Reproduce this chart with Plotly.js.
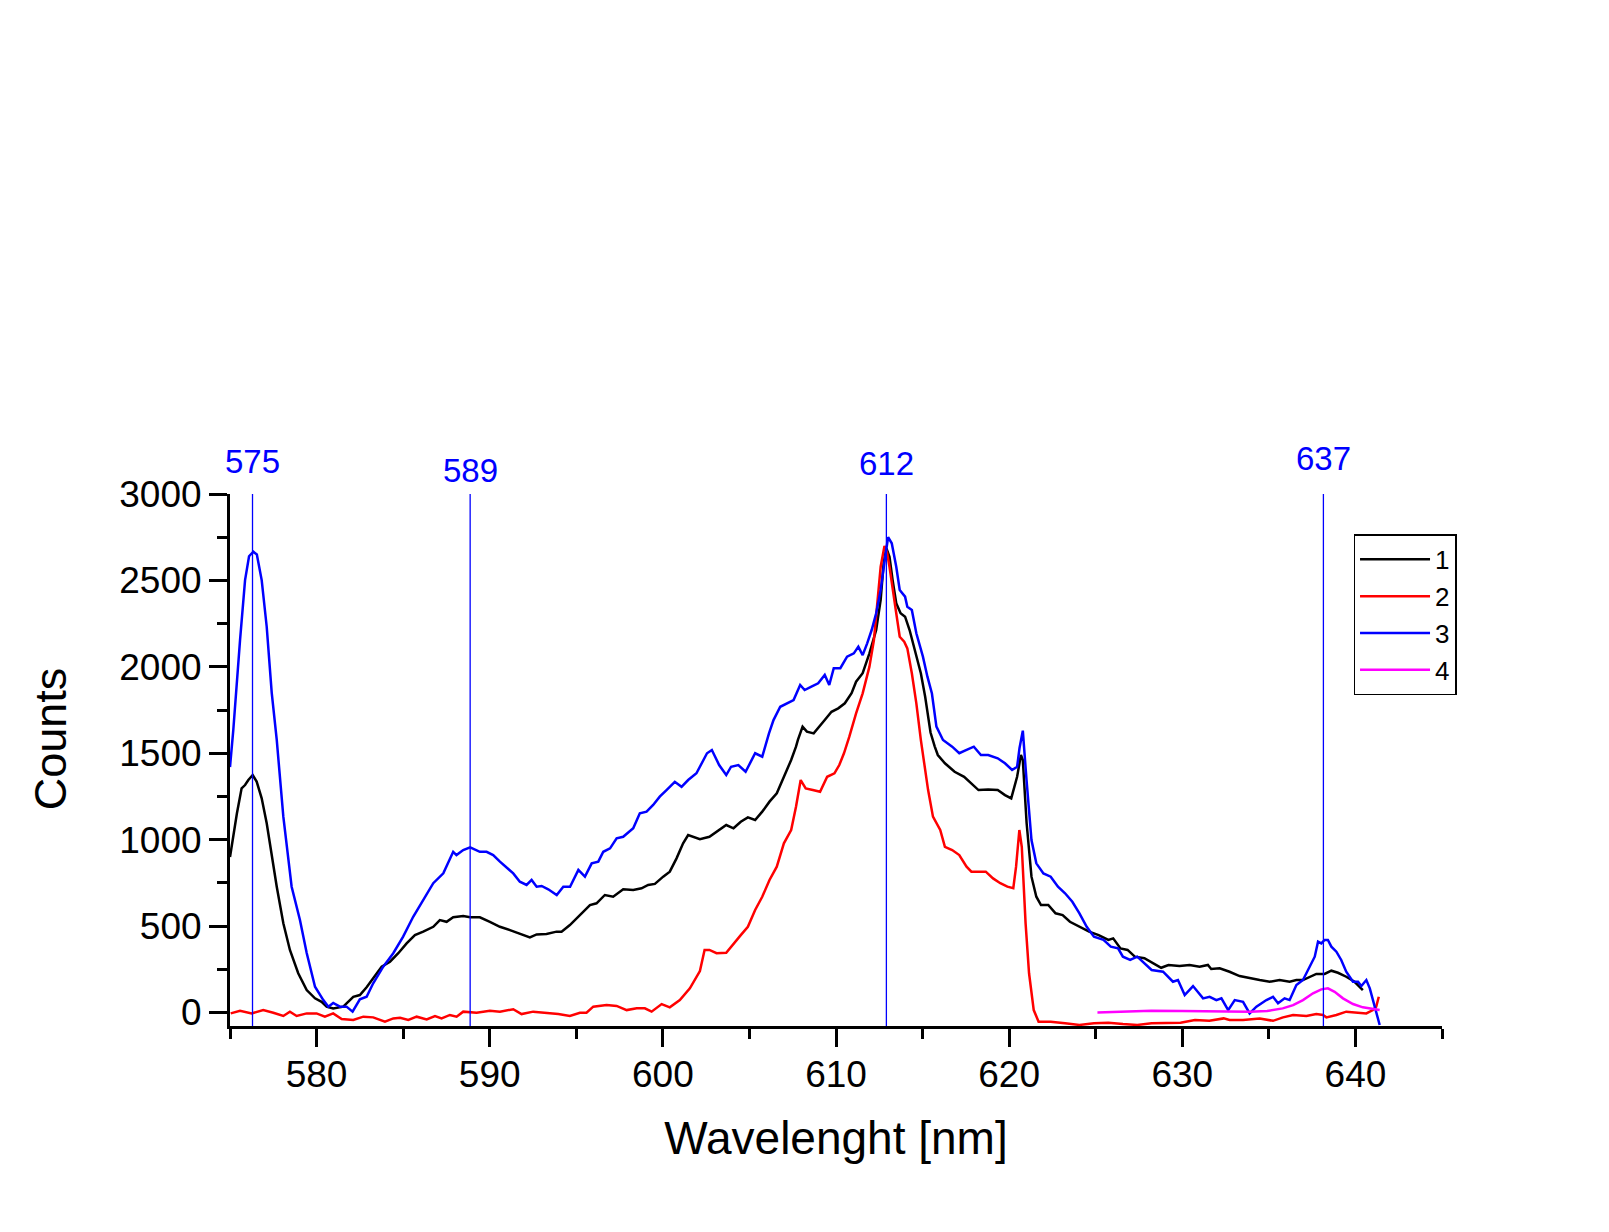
<!DOCTYPE html>
<html>
<head>
<meta charset="utf-8">
<script src="https://cdn.plot.ly/plotly-3.0.1.min.js"></script>
<style>html,body{margin:0;padding:0;background:#fff;}#chart{width:1609px;height:1232px;}</style>
</head>
<body>
<div id="chart"></div>
<script>
// ---- Data ----
const seriesNames = ['1', '2', '3', '4'];

const s1x = [575.0,575.2,575.4,575.67,575.87,576.06,576.31,576.54,576.83,577.12,577.41,577.7,578.08,578.46,578.94,579.43,579.91,580.29,580.58,580.96,581.54,581.83,582.12,582.5,582.89,583.27,583.76,584.24,584.72,585.2,585.68,586.16,586.74,587.12,587.51,587.89,588.47,588.87,589.43,590.01,590.59,591.17,591.74,592.32,592.71,593.28,593.86,594.15,594.63,595.21,595.79,596.17,596.65,597.13,597.71,598.29,598.77,599.15,599.54,600.02,600.4,600.79,601.17,601.46,601.75,602.14,602.69,603.25,603.66,604.08,604.5,604.91,605.33,605.74,606.16,606.58,606.99,607.41,607.69,607.8,608.07,608.32,608.71,608.97,609.35,609.74,610.13,610.51,610.9,611.16,611.54,611.93,612.32,612.58,612.75,612.91,613.09,613.27,613.48,613.73,613.99,614.25,614.51,614.9,615.15,615.46,615.7,615.88,616.29,616.85,617.4,617.82,618.23,618.79,619.34,619.76,620.12,620.46,620.68,620.79,621.01,621.29,621.57,621.84,622.26,622.68,623.09,623.51,624.06,624.62,625.17,625.73,626.01,626.43,626.84,627.26,627.81,628.37,628.78,629.2,629.84,630.42,631.0,631.48,631.67,632.16,632.73,633.31,633.89,634.47,635.05,635.62,636.2,636.59,636.97,637.36,637.74,638.22,638.61,638.99,639.47,639.95,640.43];
const s1y = [900,1037,1153,1297,1316,1345,1374,1336,1239,1095,901,728,516,362,227,130,82,62,34,24,34,62,91,101,146,198,265,294,343,400,448,468,496,535,525,551,558,551,551,525,496,477,458,435,452,454,468,468,506,564,622,632,680,670,713,709,719,738,744,786,815,892,979,1027,1017,1003,1017,1056,1085,1066,1104,1129,1114,1162,1220,1268,1364,1461,1538,1577,1654,1625,1615,1644,1692,1740,1760,1789,1847,1914,1963,2078,2213,2387,2599,2686,2637,2502,2368,2310,2290,2213,2117,1963,1827,1620,1540,1490,1442,1393,1364,1326,1287,1291,1287,1258,1239,1364,1490,1461,1095,786,670,622,622,574,564,525,496,468,448,420,429,371,362,323,314,285,259,275,269,275,265,275,252,256,236,211,198,188,178,188,178,188,188,207,223,223,242,230,207,178,130];

const s2x = [575.04,575.58,576.25,576.92,577.5,578.08,578.46,578.85,579.43,580.0,580.48,580.96,581.45,582.12,582.7,583.27,583.95,584.43,584.82,585.3,585.78,586.36,586.84,587.22,587.7,588.09,588.47,589.24,590.01,590.59,591.36,591.84,592.51,593.28,593.96,594.63,595.21,595.59,595.98,596.75,597.33,597.91,598.49,598.96,599.35,599.93,600.4,600.98,601.56,602.14,602.41,602.69,603.1,603.66,604.08,604.5,604.91,605.33,605.74,606.16,606.58,606.99,607.41,607.69,607.96,608.25,608.66,609.08,609.49,609.91,610.19,610.46,610.77,611.16,611.54,611.93,612.19,612.4,612.58,612.8,612.95,613.09,613.27,613.48,613.68,613.94,614.12,614.38,614.64,614.9,615.32,615.6,616.02,616.29,616.71,617.12,617.54,617.82,618.23,618.65,619.07,619.49,619.9,620.24,620.4,620.59,620.73,620.95,621.15,621.42,621.7,622.4,623.23,624.06,624.9,625.73,626.57,627.4,628.23,628.89,629.9,630.73,631.56,632.39,632.73,633.51,634.47,635.24,635.82,636.4,637.17,637.74,638.13,638.32,638.9,639.47,640.05,640.63,641.01,641.2,641.35];
const s2y = [-5,10,-5,14,-1,-20,5,-20,-5,-5,-24,-5,-38,-43,-24,-28,-53,-34,-30,-43,-24,-40,-20,-34,-14,-24,5,-1,10,5,19,-9,5,-1,-9,-20,-1,-1,34,43,38,14,24,24,5,49,30,72,140,240,362,362,343,346,400,448,496,593,670,767,844,979,1056,1191,1345,1297,1287,1277,1364,1384,1432,1500,1596,1731,1847,2001,2155,2387,2579,2700,2660,2579,2464,2310,2174,2145,2107,1963,1789,1577,1287,1133,1056,959,940,911,844,815,815,815,776,748,728,719,844,1056,959,516,227,14,-53,-53,-62,-72,-62,-59,-67,-72,-62,-62,-59,-43,-48,-34,-43,-43,-34,-48,-28,-14,-20,-9,-14,-28,-14,5,-1,-5,14,34,91];

const s3x = [575.0,575.19,575.58,575.87,576.1,576.35,576.55,576.83,577.12,577.41,577.7,578.08,578.56,579.04,579.43,579.91,580.39,580.68,580.96,581.35,581.73,582.08,582.5,582.89,583.27,583.85,584.43,585.0,585.58,586.16,586.74,587.32,587.89,588.08,588.47,588.87,589.43,589.82,590.2,590.59,590.97,591.36,591.74,592.13,592.42,592.71,593.0,593.38,593.87,594.25,594.64,595.12,595.5,595.89,596.27,596.56,596.95,597.33,597.71,598.29,598.67,599.06,599.44,599.82,600.21,600.69,601.08,601.46,601.94,602.55,602.83,603.25,603.66,603.94,604.36,604.78,605.33,605.74,606.13,606.39,606.78,607.16,607.55,607.93,608.19,608.58,608.97,609.35,609.61,609.87,610.25,610.64,611.03,611.29,611.54,611.8,612.06,612.32,612.58,612.84,613.01,613.22,613.48,613.68,613.99,614.12,614.38,614.64,615.02,615.28,615.54,615.8,616.18,616.71,617.12,617.54,617.96,618.37,618.79,619.34,619.76,620.17,620.46,620.6,620.79,621.0,621.29,621.57,621.98,622.4,622.82,623.23,623.65,624.06,624.48,624.9,625.45,625.87,626.29,626.57,626.99,627.4,627.81,628.23,628.89,629.46,629.75,630.14,630.62,631.2,631.58,631.97,632.26,632.65,633.03,633.51,633.89,634.28,634.86,635.24,635.53,635.91,636.2,636.59,636.97,637.36,637.65,637.84,638.03,638.22,638.41,638.61,638.9,639.18,639.47,639.86,640.15,640.34,640.63,640.83,641.12,641.4];
const s3y = [1420,1634,2155,2502,2640,2666,2650,2502,2232,1849,1577,1133,728,535,344,149,72,34,55,34,34,5,76,91,169,265,343,439,554,651,748,805,930,911,940,956,930,930,911,873,842,805,757,738,767,728,732,713,680,728,728,825,786,863,873,930,950,1008,1017,1066,1153,1162,1201,1249,1287,1335,1306,1345,1384,1500,1519,1432,1374,1422,1432,1393,1500,1480,1615,1692,1769,1789,1808,1895,1866,1885,1905,1953,1895,1992,1992,2059,2078,2117,2068,2136,2213,2310,2445,2637,2750,2715,2579,2445,2406,2348,2329,2194,2059,1943,1846,1654,1577,1538,1500,1519,1538,1490,1490,1471,1442,1403,1422,1530,1631,1350,998,863,805,786,728,690,641,574,496,439,420,381,371,323,304,323,285,246,236,178,188,101,153,82,91,72,82,14,72,62,-5,34,72,91,53,82,72,159,188,265,323,410,400,420,420,381,352,304,236,178,178,153,188,140,34,-72];

const s4x = [625.1,626.5,628.2,630.0,632.0,633.9,634.9,635.8,636.4,636.97,637.55,638.03,638.41,638.8,639.28,639.86,640.43,641.01,641.4];
const s4y = [0,3,10,9,5,5,9,24,43,72,111,134,140,120,82,49,30,19,14];

const peakPositions = [576.3, 588.87, 612.91, 638.15];
const peakLabels = ['575', '589', '612', '637'];

const xTitle = 'Wavelenght [nm]';
const yTitle = 'Counts';

// ---- Chart ----
const colors = ['#000000', '#ff0000', '#0000ff', '#ff00ff'];
const xs = [s1x, s2x, s3x, s4x];
const ys = [s1y, s2y, s3y, s4y];
const font = 'Liberation Sans, Arial, Helvetica, sans-serif';

const traces = seriesNames.map((n, i) => ({
  type: 'scatter', mode: 'lines', name: n,
  x: xs[i], y: ys[i],
  line: {color: colors[i], width: 2.5}
}));

const labelY = [1.061, 1.045, 1.057, 1.066];

const shapes = peakPositions.map(p => ({
  type: 'line', xref: 'x', yref: 'paper', x0: p, x1: p, y0: 0, y1: 1,
  line: {color: '#0000ff', width: 1.3}, layer: 'above'
}));

const annotations = peakPositions.map((p, i) => ({
  x: p, xref: 'x', y: labelY[i], yref: 'paper', text: peakLabels[i],
  showarrow: false, xanchor: 'center', yanchor: 'middle',
  font: {family: font, size: 33, color: '#0000ff'}
}));

annotations.push({
  x: -0.1474, xref: 'paper', y: 0.5395, yref: 'paper', text: yTitle,
  textangle: -90, showarrow: false, xanchor: 'center', yanchor: 'middle',
  font: {family: font, size: 45, color: '#000'}
});

const axisCommon = {
  showline: true, linewidth: 3, linecolor: '#000', mirror: false,
  showgrid: false, zeroline: false,
  ticks: 'outside', ticklen: 18, tickwidth: 3, tickcolor: '#000',
  tickfont: {family: font, size: 37, color: '#000'}
};

const layout = {
  width: 1609, height: 1232,
  margin: {l: 230, r: 167, t: 494, b: 206},
  paper_bgcolor: '#fff', plot_bgcolor: '#fff',
  font: {family: font, color: '#000'},
  showlegend: true,
  legend: {
    x: 0.927, y: 0.924, xanchor: 'left', yanchor: 'top',
    bordercolor: '#000', borderwidth: 1.5, bgcolor: '#fff',
    font: {family: font, size: 26, color: '#000'},
    itemwidth: 70, tracegroupgap: 0
  },
  xaxis: Object.assign({}, axisCommon, {
    range: [575, 645], tick0: 580, dtick: 10, ticklabelstandoff: -4,
    minor: {tick0: 575, dtick: 5, ticks: 'outside', ticklen: 10, tickwidth: 3, tickcolor: '#000', showgrid: false},
    title: {text: xTitle, font: {family: font, size: 46, color: '#000'}, standoff: 28}
  }),
  yaxis: Object.assign({}, axisCommon, {
    range: [-78, 3000], tick0: 0, dtick: 500, ticklabelstandoff: 0,
    minor: {tick0: 0, dtick: 250, ticks: 'outside', ticklen: 10, tickwidth: 3, tickcolor: '#000', showgrid: false}
  }),
  shapes: shapes,
  annotations: annotations
};

Plotly.newPlot('chart', traces, layout, {displayModeBar: false, staticPlot: true});
</script>
</body>
</html>
